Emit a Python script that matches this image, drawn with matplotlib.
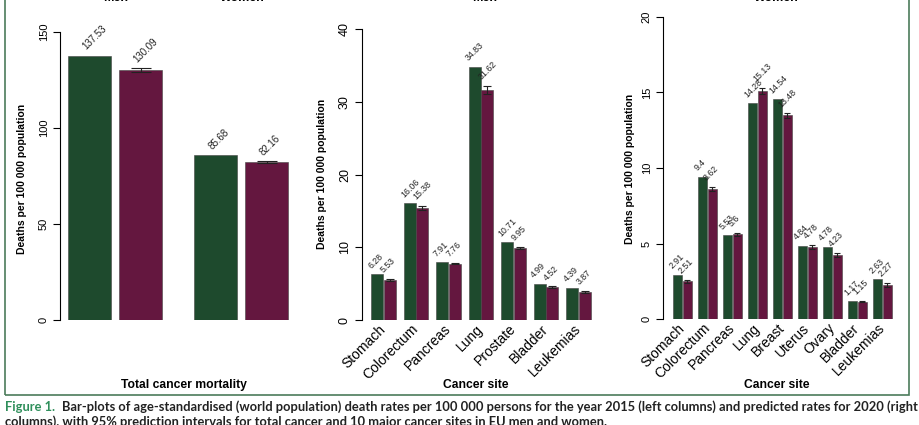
import numpy as np
import matplotlib.pyplot as plt
from matplotlib.patches import Rectangle

plt.rcParams['font.family'] = ['Liberation Sans', 'DejaVu Sans']

green = '#1e4a2d'
purple = '#64173f'

# total cancer mortality, men and women
total_groups = ['Men', 'Women']
total_2015 = [137.53, 85.68]
total_2020 = [130.09, 82.16]
total_err = [1.1, 0.4]

# men, by cancer site
men_sites = ['Stomach', 'Colorectum', 'Pancreas', 'Lung', 'Prostate', 'Bladder', 'Leukemias']
men_2015 = [6.28, 16.06, 7.91, 34.83, 10.71, 4.99, 4.39]
men_2020 = [5.53, 15.38, 7.76, 31.62, 9.95, 4.52, 3.87]
men_err = [0.15, 0.3, 0.1, 0.6, 0.15, 0.1, 0.12]

# women, by cancer site
women_sites = ['Stomach', 'Colorectum', 'Pancreas', 'Lung', 'Breast', 'Uterus', 'Ovary', 'Bladder', 'Leukemias']
women_2015 = [2.91, 9.4, 5.53, 14.28, 14.54, 4.84, 4.78, 1.17, 2.63]
women_2020 = [2.51, 8.62, 5.6, 15.13, 13.48, 4.78, 4.23, 1.15, 2.27]
women_err = [0.1, 0.15, 0.1, 0.2, 0.15, 0.12, 0.15, 0.05, 0.12]

caption1 = ('Bar-plots of age-standardised (world population) death rates per 100 000 persons '
            'for the year 2015 (left columns) and predicted rates for 2020 (right')
caption2 = ('columns), with 95% prediction intervals for total cancer and 10 major cancer sites '
            'in EU men and women.')

W, H = 920, 425
fig = plt.figure(figsize=(W / 100, H / 100), dpi=100)


def fx(px):
    return px / W


def fy(py):
    return 1 - py / H


def px_axes(left, right, bottom, top):
    return fig.add_axes([fx(left), fy(bottom), (right - left) / W, (bottom - top) / H])


def draw_panel(ax, v15, v20, err, width, offset, xlim, ymax, yticks,
               tick_fs, val_fs, capsize, cats=None):
    x = np.arange(len(v15))
    ax.bar(x - offset, v15, width, color=green, edgecolor='#444444', linewidth=0.4)
    ax.bar(x + offset, v20, width, color=purple, edgecolor='#444444', linewidth=0.4)
    ax.errorbar(x + offset, v20, yerr=err, fmt='none', ecolor='#222222',
                elinewidth=0.8, capsize=capsize, capthick=0.8)
    # value labels, slanted, starting just above each bar (above the interval for 2020)
    dx = -1 if cats is None else -3
    tops20 = np.array(v20) + np.array(err)
    for xs, vals, tops in ((x - offset, v15, v15), (x + offset, v20, tops20)):
        for xi, v, t in zip(xs, vals, tops):
            ax.annotate(f'{v:g}', (xi, t), xytext=(dx, 3), textcoords='offset points',
                        rotation=45, rotation_mode='anchor', ha='left', va='bottom',
                        fontsize=val_fs, color='#222222', annotation_clip=False)
    ax.set_xlim(*xlim)
    ax.set_ylim(0, ymax)
    ax.set_yticks(yticks)
    ax.set_yticklabels([str(t) for t in yticks], rotation=90, va='center', fontsize=tick_fs)
    ax.tick_params(axis='y', length=5, width=0.8, pad=3)
    for s in ('top', 'right', 'bottom'):
        ax.spines[s].set_visible(False)
    ax.spines['left'].set_bounds(0, ymax)
    ax.spines['left'].set_linewidth(0.8)
    ax.patch.set_visible(False)
    if cats is None:
        ax.set_xticks([])
    else:
        ax.set_xticks(x)
        ax.set_xticklabels(cats, rotation=45, ha='right', va='center',
                           rotation_mode='anchor', fontsize=10)
        ax.tick_params(axis='x', length=0, pad=5)


ax1 = px_axes(60, 300, 320, 32)
draw_panel(ax1, total_2015, total_2020, total_err, 0.341, 0.2024, (-0.4365, 1.468),
           150, [0, 50, 100, 150], 8, 7, 7)

ax2 = px_axes(362, 600, 320, 29)
draw_panel(ax2, men_2015, men_2020, men_err, 0.375, 0.192, (-0.66, 6.66),
           40, [0, 10, 20, 30, 40], 9, 6.3, 3, men_sites)

ax3 = px_axes(663, 900, 319, 17)
draw_panel(ax3, women_2015, women_2020, women_err, 0.37, 0.19, (-0.78, 8.7),
           20, [0, 5, 10, 15, 20], 8, 6.3, 2.5, women_sites)

ylab = 'Deaths per 100 000 population'
for xp, yp in ((22, 179), (322, 174), (630, 169)):
    fig.text(fx(xp), fy(yp), ylab, rotation=90, ha='center', va='center',
             fontsize=7.5, fontweight='bold')

fig.text(fx(184), fy(385), 'Total cancer mortality', ha='center', va='center',
         fontsize=8.7, fontweight='bold')
fig.text(fx(476), fy(385), 'Cancer site', ha='center', va='center',
         fontsize=8.7, fontweight='bold')
fig.text(fx(777), fy(385), 'Cancer site', ha='center', va='center',
         fontsize=8.7, fontweight='bold')

# panel titles, mostly cut off at the top edge
for xp, t in ((116, 'Men'), (242, 'Women'), (485, 'Men'), (776, 'Women')):
    fig.text(fx(xp), fy(0.8), t, ha='center', va='baseline', fontsize=9, fontweight='bold')

fig.add_artist(Rectangle((fx(5), fy(395)), 904 / W, 410 / H, transform=fig.transFigure,
                         fill=False, edgecolor='#4b7b5b', linewidth=1.2))

fig.text(fx(5), fy(411), 'Figure 1.', color='#2f8f5b', fontsize=9.3,
         fontweight='bold', family='Lato', va='baseline')
fig.text(fx(62), fy(411), caption1, color='#222222', fontsize=9.3,
         fontweight='bold', family='Lato', va='baseline')
fig.text(fx(5), fy(426), caption2, color='#222222', fontsize=9.3,
         fontweight='bold', family='Lato', va='baseline')

fig.savefig('out.png', dpi=100)
